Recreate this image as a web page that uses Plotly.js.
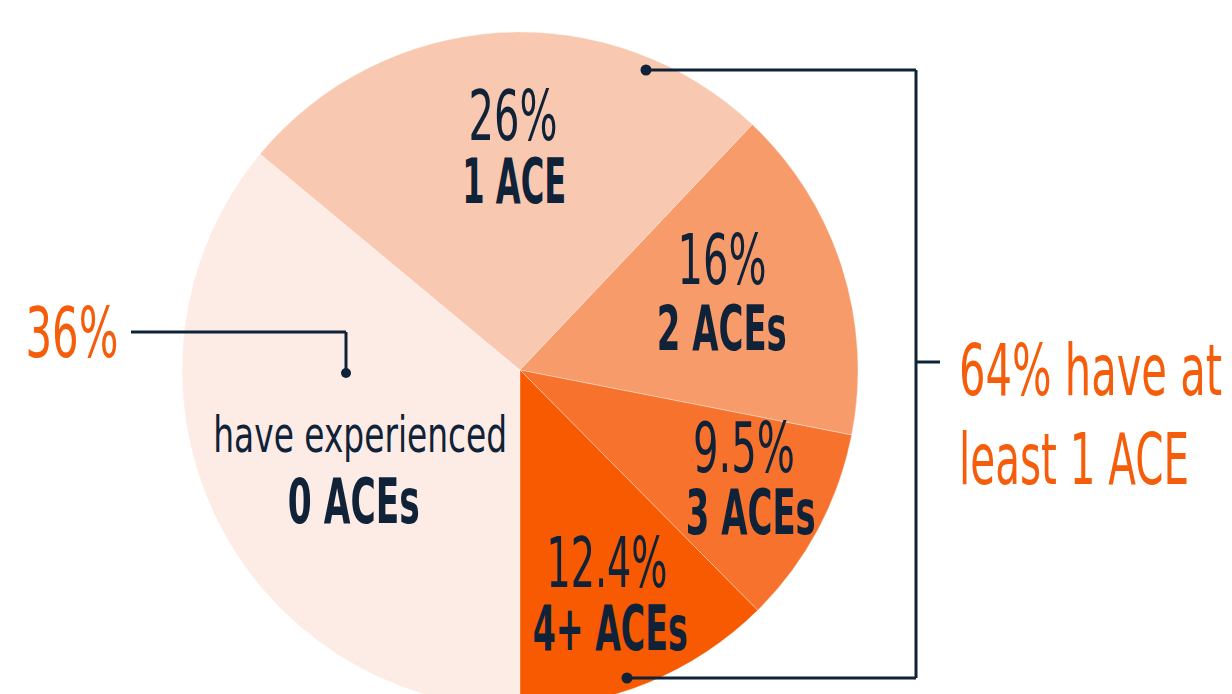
<!DOCTYPE html>
<html>
<head>
<meta charset="utf-8">
<script src="https://cdn.plot.ly/plotly-3.0.1.min.js"></script>
<style>
html,body{margin:0;padding:0;overflow:hidden;background:#fff;width:1232px;height:694px;}
#chart{width:1232px;height:720px;}
</style>
</head>
<body>
<div id="chart"></div>
<script>
const categories = ["0 ACEs", "1 ACE", "2 ACEs", "3 ACEs", "4+ ACEs"];
const percentLabels = ["36%", "26%", "16%", "9.5%", "12.4%"];
const values = [36, 26, 16, 9.5, 12.4];
const sliceColors = ["#fdece5", "#f9c8b0", "#f89b6b", "#f7722d", "#f75a00"];
const summaryLabel = ["64% have at", "least 1 ACE"];

const W = 1232, H = 720;
const NAVY = "#0f2238", ORANGE = "#f55d0a";
const FONT = "'DejaVu Sans Condensed', 'DejaVu Sans', sans-serif";
const px = x => x / W;
const py = y => (H - y) / H;

const trace = {
  type: "pie",
  values: values,
  labels: categories,
  sort: false,
  direction: "clockwise",
  rotation: 180,
  textinfo: "none",
  hoverinfo: "none",
  showlegend: false,
  marker: {colors: sliceColors, line: {color: "rgba(255,255,255,0.35)", width: 1}},
  domain: {x: [px(182), px(858)], y: [py(708), py(32)]}
};

// target widths (px) used to condense each label horizontally
const targetW = [];
const leftAnchored = [];
function ann(x, y, text, size, color, bold, w, anchor) {
  targetW.push(w);
  leftAnchored.push(anchor === "left");
  return {
    xref: "paper", yref: "paper", x: px(x), y: py(y),
    text: bold ? "<b>" + text + "</b>" : text,
    showarrow: false, xanchor: anchor || "center", yanchor: "middle",
    font: {family: FONT, size: size, color: color}
  };
}

const annotations = [
  ann(513, 116, percentLabels[1], 70, NAVY, false, 89),
  ann(514, 181, categories[1], 62, NAVY, true, 104),
  ann(722, 260, percentLabels[2], 70, NAVY, false, 89),
  ann(722, 328, categories[2], 62, NAVY, true, 130),
  ann(744, 448, percentLabels[3], 70, NAVY, false, 102),
  ann(751, 512, categories[3], 62, NAVY, true, 130),
  ann(607, 563, percentLabels[4], 70, NAVY, false, 121),
  ann(610, 628, categories[4], 62, NAVY, true, 155),
  ann(360, 435, "have experienced", 50, NAVY, false, 294),
  ann(354, 501, categories[0], 62, NAVY, true, 132),
  ann(71.5, 333, percentLabels[0], 70, ORANGE, false, 93),
  ann(957, 370, summaryLabel[0], 72, ORANGE, false, 263, "left"),
  ann(957, 459, summaryLabel[1], 72, ORANGE, false, 230, "left")
];

function seg(x0, y0, x1, y1) {
  return {type: "line", xref: "paper", yref: "paper",
    x0: px(x0), y0: py(y0), x1: px(x1), y1: py(y1),
    line: {color: NAVY, width: 3}};
}
function dot(x, y, r) {
  return {type: "circle", xref: "paper", yref: "paper",
    x0: px(x - r), x1: px(x + r), y0: py(y + r), y1: py(y - r),
    fillcolor: NAVY, line: {width: 0}};
}

const shapes = [
  seg(131, 332, 346, 332), seg(346, 332, 346, 373), dot(346, 373, 5),
  seg(646, 70, 916, 70), seg(916, 70, 916, 678), seg(916, 678, 627, 678),
  seg(916, 362, 940, 362), dot(646, 70, 5.5), dot(627, 678, 5.5)
];

const layout = {
  width: W, height: H,
  margin: {l: 0, r: 0, t: 0, b: 0},
  paper_bgcolor: "#ffffff",
  plot_bgcolor: "#ffffff",
  showlegend: false,
  annotations: annotations,
  shapes: shapes
};

function condense(gd) {
  const groups = gd.querySelectorAll(".annotation");
  groups.forEach(g => {
    const i = +g.getAttribute("data-index");
    const t = g.querySelector("text.annotation-text");
    if (!t || !targetW[i]) return;
    t.removeAttribute("transform");
    const bb = t.getBBox();
    const s = targetW[i] / bb.width;
    const ox = leftAnchored[i] ? bb.x : bb.x + bb.width / 2;
    t.setAttribute("transform", `translate(${ox},0) scale(${s},1) translate(${-ox},0)`);
  });
}

Plotly.newPlot("chart", [trace], layout, {displayModeBar: false, staticPlot: true})
  .then(gd => condense(gd));
</script>
</body>
</html>
